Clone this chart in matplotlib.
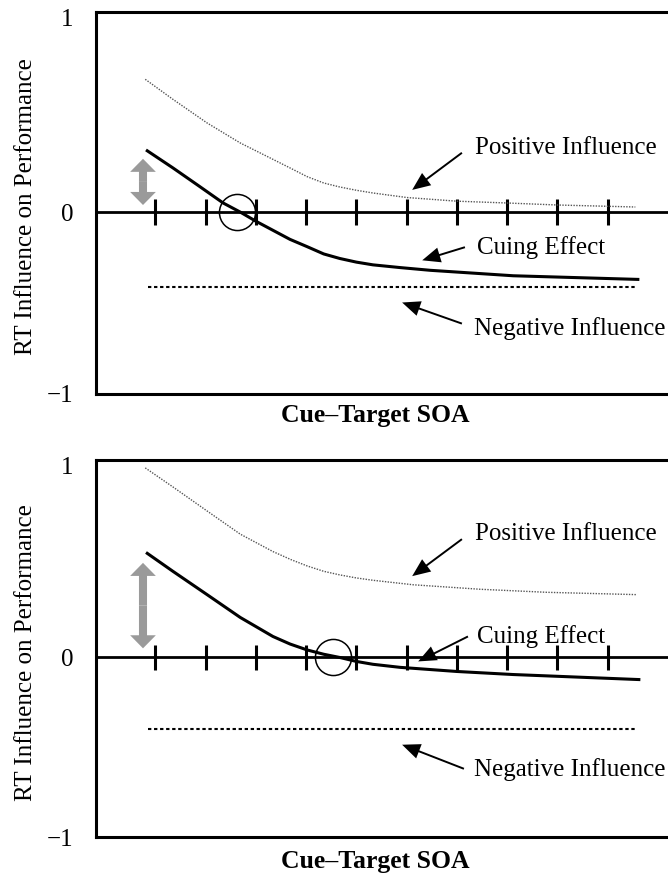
import matplotlib
matplotlib.use("Agg")
import matplotlib.pyplot as plt

plt.rcParams['font.family'] = ['Liberation Serif', 'DejaVu Serif']

# ---- data ----
soa_ticks = [1, 2, 3, 4, 5, 6, 7, 8, 9, 10]
ytick_pos = [-1, 0, 1.07]
ytick_labels = ['\u22121', '0', '1']

# top panel
top_pos_x = [0.8, 1.35, 2.03, 2.69, 3.34, 3.7, 4.02, 4.35, 4.67, 5.0, 5.33, 6.01, 7.0, 8.0, 9.0, 10.55]
top_pos_y = [0.73, 0.62, 0.49, 0.38, 0.29, 0.24, 0.195, 0.16, 0.138, 0.12, 0.105, 0.08, 0.06, 0.05, 0.039, 0.028]
top_cue_x = [0.84, 1.35, 1.86, 2.35, 2.69, 3.0, 3.34, 3.68, 4.02, 4.35, 4.67, 5.0, 5.33, 5.87, 6.47, 8.12, 10.6]
top_cue_y = [0.337, 0.243, 0.145, 0.05, 0.0, -0.05, -0.10, -0.15, -0.19, -0.23, -0.255, -0.275, -0.29, -0.305, -0.32, -0.35, -0.37]
top_neg_x = [0.85, 10.55]
top_neg_y = [-0.41, -0.41]
top_cross_x = 2.63
top_range = [0.293, 0.039]

# bottom panel
bot_pos_x = [0.8, 1.35, 2.03, 2.69, 3.34, 3.7, 4.02, 4.35, 4.67, 5.0, 5.33, 6.13, 7.46, 8.79, 10.58]
bot_pos_y = [1.056, 0.95, 0.816, 0.687, 0.59, 0.545, 0.51, 0.48, 0.46, 0.443, 0.43, 0.405, 0.38, 0.363, 0.35]
bot_cue_x = [0.84, 1.35, 2.03, 2.69, 3.34, 3.68, 4.02, 4.35, 4.67, 5.0, 5.33, 5.87, 7.0, 8.12, 10.62]
bot_cue_y = [0.58, 0.48, 0.35, 0.223, 0.117, 0.075, 0.042, 0.018, 0.0, -0.022, -0.038, -0.055, -0.078, -0.095, -0.123]
bot_neg_x = [0.85, 10.55]
bot_neg_y = [-0.40, -0.40]
bot_cross_x = 4.54
bot_range = [0.527, 0.051]

labels = ['Positive Influence', 'Cuing Effect', 'Negative Influence']
top_label_xy = [(7.36, 0.354), (7.40, -0.193), (7.34, -0.64)]
top_arrow_tail = [(7.10, 0.326), (7.16, -0.193), (7.10, -0.613)]
top_arrow_tip = [(6.11, 0.122), (6.31, -0.265), (5.91, -0.497)]
bot_label_xy = [(7.36, 0.687), (7.40, 0.117), (7.34, -0.626)]
bot_arrow_tail = [(7.10, 0.659), (7.22, 0.117), (7.14, -0.620)]
bot_arrow_tip = [(6.11, 0.453), (6.23, -0.022), (5.91, -0.486)]

ylabel = 'RT Influence on Performance'
xlabel = 'Cue\u2013Target SOA'

fig = plt.figure(figsize=(6.68, 8.74), dpi=100)
ax_top = fig.add_axes([96 / 668, 1 - 394 / 874, 572 / 668, 382 / 874])
ax_bot = fig.add_axes([96 / 668, 1 - 837 / 874, 572 / 668, 377 / 874])

panels = [
    (ax_top, top_pos_x, top_pos_y, top_cue_x, top_cue_y, top_neg_x, top_neg_y,
     top_cross_x, top_range, top_label_xy, top_arrow_tail, top_arrow_tip, -0.055),
    (ax_bot, bot_pos_x, bot_pos_y, bot_cue_x, bot_cue_y, bot_neg_x, bot_neg_y,
     bot_cross_x, bot_range, bot_label_xy, bot_arrow_tail, bot_arrow_tip, -0.066),
]

for (ax, px, py, cx, cy, nx, ny, crossx, rng, lxy, atail, atip, xl_y) in panels:
    ax.set_xlim(-0.18, 11.2)
    ax.set_ylim(-1, 1.1)
    ax.spines['right'].set_visible(False)
    for s in ['left', 'top', 'bottom']:
        ax.spines[s].set_linewidth(2.2)
    ax.set_xticks([])
    ax.set_yticks(ytick_pos)
    ax.set_yticklabels(ytick_labels)
    ax.tick_params(axis='y', length=0, pad=16, labelsize=18)

    # zero line with SOA ticks
    ax.axhline(0, color='black', lw=2.0, zorder=2)
    ax.vlines(soa_ticks, -0.072, 0.072, color='black', lw=2.2, zorder=2)

    # curves
    ax.plot(px, py, color='#555555', lw=1.0, linestyle=(0, (1, 1)), zorder=3)
    ax.plot(nx, ny, color='black', lw=1.5, linestyle=(0, (1.6, 1.3)), zorder=3)
    ax.plot(cx, cy, color='black', lw=2.2, zorder=4, solid_joinstyle='round')

    # crossover circle
    ax.plot([crossx], [0], marker='o', ms=26, mfc='none', mec='black', mew=1.1,
            zorder=5)

    # gray double arrow
    mid = (rng[0] + rng[1]) / 2
    gray_props = dict(width=5.8, headwidth=18.5, headlength=9.4, shrink=0,
                      color='#9a9a9a', lw=0)
    ax.annotate('', xy=(0.755, rng[0]), xytext=(0.755, mid), arrowprops=gray_props)
    ax.annotate('', xy=(0.755, rng[1]), xytext=(0.755, mid), arrowprops=gray_props)

    # labels and arrows
    for lab, (tx, ty), tail, tip in zip(labels, lxy, atail, atip):
        ax.text(tx, ty, lab, fontsize=18, ha='left', va='center')
        ax.annotate('', xy=tip, xytext=tail,
                    arrowprops=dict(width=1.4, headwidth=11, headlength=13,
                                    shrink=0, color='black', lw=0))

    ax.set_ylabel(ylabel, fontsize=18)
    ax.yaxis.set_label_coords(-0.122, 0.49)
    ax.yaxis.label.set_va('center')
    ax.set_xlabel(xlabel, fontsize=18.5, fontweight='bold')
    ax.xaxis.set_label_coords(0.488, xl_y)
    ax.xaxis.label.set_va('center')

fig.savefig('out.png', dpi=100)
